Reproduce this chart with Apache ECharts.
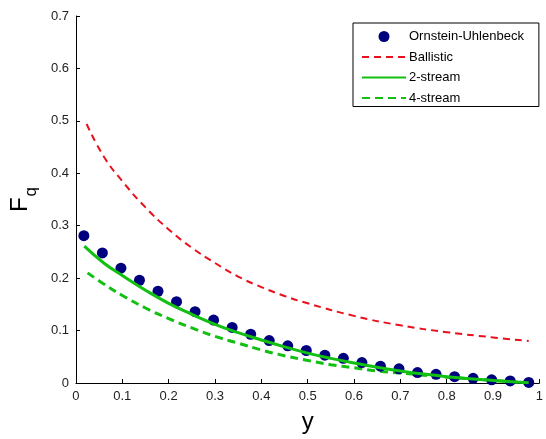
<!DOCTYPE html>
<html><head><meta charset="utf-8">
<script src="https://cdn.jsdelivr.net/npm/echarts@6/dist/echarts.min.js"></script>
<style>html,body{margin:0;padding:0;background:#fff}#c{width:546px;height:439px}</style>
</head><body><div id="c"></div>
<script>
// Ornstein-Uhlenbeck (dots)
const ouX = [0.017,0.057,0.097,0.137,0.177,0.217,0.257,0.297,0.337,0.377,0.417,0.457,0.497,0.537,0.577,0.617,0.657,0.697,0.737,0.777,0.817,0.857,0.897,0.937,0.977];
const ouY = [0.281,0.248,0.219,0.196,0.175,0.155,0.136,0.120,0.106,0.093,0.081,0.071,0.062,0.053,0.047,0.039,0.032,0.027,0.020,0.0165,0.012,0.009,0.006,0.004,0.001];
// Ballistic (red dashed)
const balX = [0.023,0.06,0.1,0.15,0.2,0.25,0.3,0.35,0.4,0.45,0.5,0.6,0.7,0.8,0.9,0.977];
const balY = [0.494,0.432,0.385,0.335,0.293,0.258,0.229,0.203,0.183,0.166,0.152,0.128,0.110,0.097,0.087,0.080];
// 2-stream (green solid)
const s2X = [0.018,0.06,0.1,0.15,0.2,0.25,0.3,0.35,0.4,0.45,0.5,0.55,0.6,0.65,0.7,0.75,0.8,0.85,0.9,0.95,0.977];
const s2Y = [0.261,0.229,0.205,0.177,0.152,0.131,0.112,0.096,0.082,0.069,0.057,0.047,0.038,0.030,0.023,0.017,0.012,0.008,0.005,0.002,0.0005];
// 4-stream (green dashed)
const s4X = [0.025,0.06,0.1,0.15,0.2,0.25,0.3,0.35,0.4,0.45,0.5,0.55,0.6,0.65,0.7,0.75,0.8,0.85,0.9,0.95,0.977];
const s4Y = [0.210,0.189,0.167,0.143,0.123,0.105,0.089,0.076,0.063,0.052,0.043,0.035,0.029,0.023,0.019,0.015,0.011,0.008,0.005,0.002,0.0005];
const xTicks = {min:0, max:1, interval:0.1};
const yTicks = {min:0, max:0.7, interval:0.1};
const names = ['Ornstein-Uhlenbeck','Ballistic','2-stream','4-stream'];

const zip = (a,b) => a.map((v,i)=>[v,b[i]]);
const green = '#12c012';
const red = '#e8101a';
const font = 'Arial, Liberation Sans, sans-serif';
const chart = echarts.init(document.getElementById('c'), null, {renderer:'canvas'});
const axisCommon = {
  axisLine:{show:true, onZero:false, lineStyle:{color:'#000', width:1}},
  axisTick:{show:true, inside:true, length:4, lineStyle:{color:'#000'}},
  splitLine:{show:false},
  axisLabel:{color:'#222', fontFamily:font, fontSize:13}
};
const noSym = {color:'rgba(0,0,0,0)', borderWidth:0, opacity:0};
chart.setOption({
  animation:false,
  backgroundColor:'#fff',
  grid:{left:75, top:16, right:2, bottom:55, containLabel:false},
  xAxis:Object.assign({type:'value', min:xTicks.min, max:xTicks.max, interval:xTicks.interval,
    name:'y', nameLocation:'middle', nameGap:27,
    nameTextStyle:{fontSize:24, color:'#000', fontFamily:font}}, axisCommon,
    {axisLabel:Object.assign({}, axisCommon.axisLabel, {margin:7, showMaxLabel:true})}),
  yAxis:Object.assign({type:'value', min:yTicks.min, max:yTicks.max, interval:yTicks.interval,
    name:'{a|F}{b|q}', nameLocation:'middle', nameGap:40, nameRotate:90,
    nameTextStyle:{color:'#000', fontFamily:font,
      rich:{a:{fontSize:24, color:'#000', fontFamily:font, verticalAlign:'bottom'},
            b:{fontSize:17, color:'#000', fontFamily:font, verticalAlign:'bottom', padding:[0,0,-8,1]}}}}, axisCommon,
    {axisLabel:Object.assign({}, axisCommon.axisLabel, {margin:7})}),
  legend:{
    orient:'vertical', left:353, top:23,
    data:[{name:names[0], icon:'circle', itemStyle:{color:'#00007f'}},
          {name:names[1], itemStyle:noSym},
          {name:names[2], itemStyle:noSym},
          {name:names[3], itemStyle:noSym}],
    itemWidth:44, itemHeight:11, itemGap:7.5,
    padding:[7,15,2,8],
    borderColor:'#000', borderWidth:1, borderRadius:0, backgroundColor:'#fff',
    textStyle:{color:'#000', fontSize:13, fontFamily:font, padding:[0,0,0,-2]}
  },
  series:[
    {name:names[0], type:'scatter', data:zip(ouX,ouY), symbol:'circle', symbolSize:11, itemStyle:{color:'#00007f', opacity:1}, z:3},
    {name:names[1], type:'line', data:zip(balX,balY), smooth:true, showSymbol:false, symbol:'none',
      lineStyle:{color:red, width:2, type:[7,5]}, itemStyle:{color:red}, z:2},
    {name:names[2], type:'line', data:zip(s2X,s2Y), smooth:true, showSymbol:false, symbol:'none',
      lineStyle:{color:green, width:3}, itemStyle:{color:green}, z:4},
    {name:names[3], type:'line', data:zip(s4X,s4Y), smooth:true, showSymbol:false, symbol:'none',
      lineStyle:{color:green, width:3, type:[8,5]}, itemStyle:{color:green}, z:2}
  ]
});
</script></body></html>
